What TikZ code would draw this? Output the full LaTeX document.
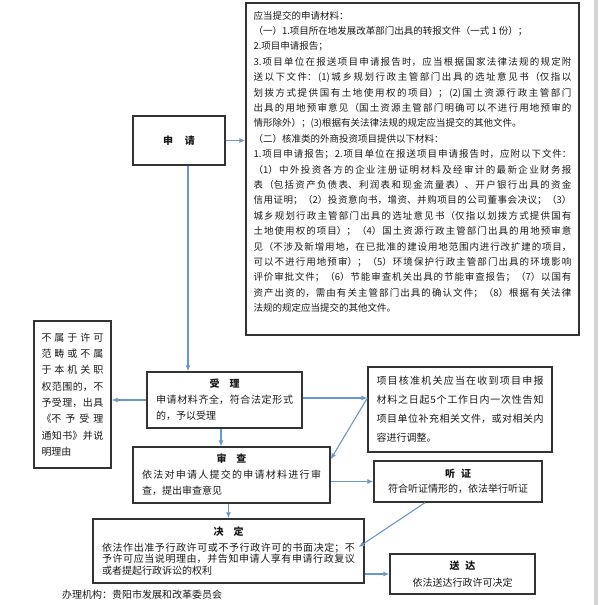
\documentclass[tikz,border=0pt]{standalone}
\usepackage{fontspec}
\setmainfont{Noto Sans CJK SC}
\usepackage{tikz}
\usetikzlibrary{arrows.meta,positioning,calc}
\definecolor{Ink}{HTML}{1A1A1A}
\definecolor{Frame}{HTML}{333333}
\definecolor{Flow}{HTML}{6A98CD}
\definecolor{PageEdge}{HTML}{D4D4D4}
\XeTeXlinebreaklocale "zh"
\XeTeXlinebreakskip=0pt plus 3pt
\tolerance=10000
\hbadness=10000
\newcommand\boxtitle[1]{{\centering\bfseries #1\par}}

\begin{document}
\begin{tikzpicture}[x=1pt, y=-1pt, >={Latex[length=6pt,width=5pt]}, text=Ink]
\tikzset{box/.style={draw=Frame, line width=1.3pt, inner sep=0pt, font=\fontsize{10}{16}\selectfont}, body/.style={box, align=justify}, flow/.style={->, Flow, line width=1.1pt}}
\useasboundingbox (0,0) rectangle (600,605);
\fill[PageEdge] (594,0) rectangle (598,605);
% left column of steps
\node[box, minimum width=92pt, minimum height=49pt] (shenqing) at (179,140.5) {\bfseries 申\hspace{1.2em}请};
\node[body, text width=318pt, minimum width=333pt, minimum height=332pt, font=\fontsize{9.5}{15.4}\selectfont] (cailiao) at (412.5,169) {应当提交的申请材料：\par
（一）1.项目所在地发展改革部门出具的转报文件（一式 1 份）；\par
2.项目申请报告；\par
3.项目单位在报送项目申请报告时，应当根据国家法律法规的规定附\linebreak
送以下文件：(1)城乡规划行政主管部门出具的选址意见书（仅指以\linebreak
划拨方式提供国有土地使用权的项目）；(2)国土资源行政主管部门\linebreak
出具的用地预审意见（国土资源主管部门明确可以不进行用地预审的\linebreak
情形除外）；(3)根据有关法律法规的规定应当提交的其他文件。\par
（二）核准类的外商投资项目提供以下材料：\par
1.项目申请报告；2.项目单位在报送项目申请报告时，应附以下文件：\linebreak
（1）中外投资各方的企业注册证明材料及经审计的最新企业财务报\linebreak
表（包括资产负债表、利润表和现金流量表）、开户银行出具的资金\linebreak
信用证明；（2）投资意向书，增资、并购项目的公司董事会决议；（3）\linebreak
城乡规划行政主管部门出具的选址意见书（仅指以划拨方式提供国有\linebreak
土地使用权的项目）；（4）国土资源行政主管部门出具的用地预审意\linebreak
见（不涉及新增用地，在已批准的建设用地范围内进行改扩建的项目，\linebreak
可以不进行用地预审）；（5）环境保护行政主管部门出具的环境影响\linebreak
评价审批文件；（6）节能审查机关出具的节能审查报告；（7）以国有\linebreak
资产出资的，需由有关主管部门出具的确认文件；（8）根据有关法律\linebreak
法规的规定应当提交的其他文件。\par\rule{0pt}{14pt}};
\node[body, text width=62pt, minimum width=77pt, minimum height=147pt, font=\fontsize{10}{16.3}\selectfont] (buzi) at (72.5,394.5) {不属于许可\linebreak 范畴或不属\linebreak 于本机关职\linebreak 权范围的，不\linebreak 予受理，出具\linebreak 《不予受理\linebreak 通知书》并说\linebreak 明理由};
\node[body, text width=137pt, minimum width=155pt, minimum height=56pt] (shouli) at (224.5,400) {\boxtitle{受\hspace{1em}理}申请材料齐全，符合法定形式\linebreak 的，予以受理};
\node[body, text width=167pt, minimum width=184pt, minimum height=85pt, font=\fontsize{10}{19}\selectfont] (buchong) at (460,409.5) {项目核准机关应当在收到项目申报\linebreak 材料之日起5个工作日内一次性告知\linebreak 项目单位补充相关文件，或对相关内\linebreak 容进行调整。};
\node[body, text width=179pt, minimum width=197pt, minimum height=56pt, font=\fontsize{10}{16}\selectfont] (shencha) at (231.5,475) {\boxtitle{审\hspace{1em}查}依法对申请人提交的申请材料进行审\linebreak 查，提出审查意见};
\node[box, align=center, minimum width=168pt, minimum height=41pt, font=\fontsize{10}{15}\selectfont] (tingzheng) at (458,481.5) {{\bfseries 听\hspace{0.6em}证}\\符合听证情形的，依法举行听证};
\node[body, text width=253pt, minimum width=271pt, minimum height=64pt, font=\fontsize{10}{11.7}\selectfont] (jueding) at (228.5,551) {\boxtitle{决\hspace{1em}定}\vspace{4pt}依法作出准予行政许可或不予行政许可的书面决定；不\linebreak 予许可应当说明理由，并告知申请人享有申请行政复议\linebreak 或者提起行政诉讼的权利};
\node[box, align=center, minimum width=145pt, minimum height=40pt, font=\fontsize{10}{17}\selectfont] (songda) at (462.5,574) {{\bfseries 送\hspace{0.6em}达}\\依法送达行政许可决定};
\node[anchor=west, inner sep=0pt, font=\fontsize{10}{12}\selectfont] (org) at (62,595) {办理机构：贵阳市发展和改革委员会};
% connectors
\draw[flow] (shenqing.east) -- (shenqing.east -| cailiao.west);
\draw[flow] ([xshift=9pt]shenqing.south) -- ([xshift=9pt]shenqing.south |- shouli.north);
\draw[flow] (shouli.west) -- (shouli.west -| buzi.east);
\draw[flow] ([yshift=2pt]shouli.east) -- ([yshift=2pt]shouli.east -| buchong.west);
\draw[flow] ([yshift=2pt]shouli.east -| buchong.west) -- ([yshift=-13pt]shencha.north east);
\draw[flow] ([xshift=-3.5pt]shouli.south) -- ([xshift=-3.5pt]shouli.south |- shencha.north);
\draw[flow] (tingzheng.west -| shencha.east) -- (tingzheng.west);
\draw[flow] (shencha.south -| jueding.north) -- (jueding.north);
\draw[flow] ([xshift=-33pt]tingzheng.south) -- ([xshift=-6pt,yshift=4pt]jueding.east);
\draw[flow] (jueding.east |- songda.west) -- (songda.west);
\end{tikzpicture}
\end{document}
